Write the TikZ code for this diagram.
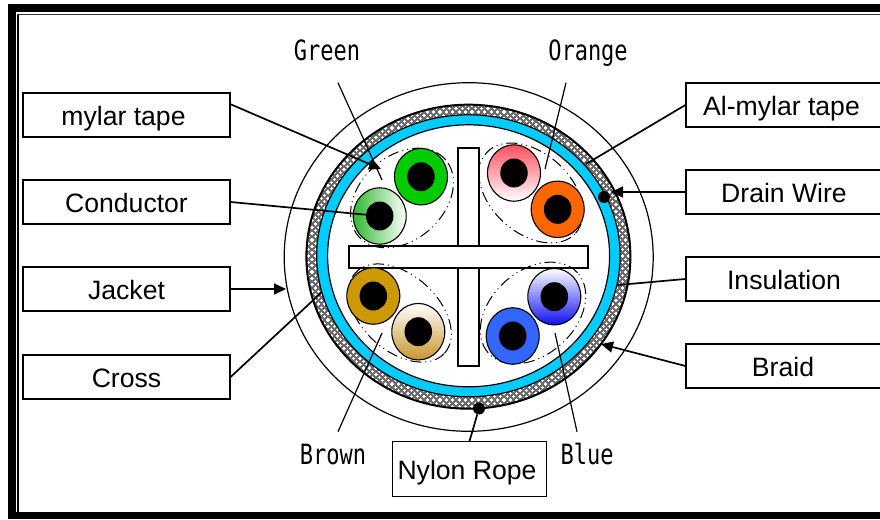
\documentclass[tikz,border=0pt]{standalone}
\usepackage{fontspec}
\usepackage{graphicx}
\setmainfont{Liberation Sans}
\newfontfamily\gothfont{DejaVu Sans Mono}
\newcommand{\tallmono}[1]{\scalebox{1}[1.27]{\gothfont #1}}
\usetikzlibrary{arrows.meta,patterns,shapes.geometric}
\pgfdeclarepatternformonly{braidweave}{\pgfqpoint{-1pt}{-1pt}}{\pgfqpoint{7.4pt}{7.4pt}}{\pgfqpoint{6.4pt}{6.4pt}}{
  \pgfsetlinewidth{1.2pt}
  \pgfpathmoveto{\pgfqpoint{0pt}{0.6pt}}\pgflineto{\pgfqpoint{3.2pt}{0.6pt}}
  \pgfpathmoveto{\pgfqpoint{1.6pt}{-1pt}}\pgflineto{\pgfqpoint{1.6pt}{2.2pt}}
  \pgfpathmoveto{\pgfqpoint{3.2pt}{3.8pt}}\pgflineto{\pgfqpoint{6.4pt}{3.8pt}}
  \pgfpathmoveto{\pgfqpoint{4.8pt}{2.2pt}}\pgflineto{\pgfqpoint{4.8pt}{5.4pt}}
  \pgfusepath{stroke}
}
\definecolor{cablecyan}{HTML}{00CCFF}
\definecolor{wiregreen}{HTML}{00CC00}
\definecolor{wireorange}{HTML}{FF6600}
\definecolor{wirebrown}{HTML}{CC9900}
\definecolor{wireblue}{HTML}{3366FF}
\definecolor{tintgreen}{HTML}{30B830}
\definecolor{tintpink}{HTML}{FF5060}
\definecolor{tintbrown}{HTML}{C8952F}
\definecolor{tintblue}{HTML}{1010F0}
\tikzset{
  lab/.style={draw=black,line width=1.2pt,fill=white,inner sep=0pt,font=\fontsize{26.6pt}{30pt}\selectfont,text height=23pt,text depth=2.5pt},
  leftbox/.style={lab,minimum width=207pt,minimum height=44pt},
  rightbox/.style={lab,minimum width=196pt,minimum height=44pt},
  colour/.style={inner sep=0pt,anchor=base,font=\fontsize{22pt}{26pt}\selectfont},
  wirebody/.style={draw=black,line width=1.1pt,ellipse,inner sep=0pt,minimum width=53pt,minimum height=56.5pt},
  wirecore/.style={fill=black,ellipse,inner sep=0pt,minimum width=27.5pt,minimum height=29pt},
  pair/.style={black,line width=1pt,dash pattern=on 11pt off 4pt on 1pt off 4pt on 1pt off 4pt},
  thinleader/.style={line width=1.2pt},
  leader/.style={line width=1.7pt},
  tipped/.style={leader,-{Triangle[length=12pt,width=11pt]}},
  blackdot/.style={fill=black,circle,inner sep=0pt,minimum size=12pt}
}
\begin{document}
\begin{tikzpicture}[x=1pt,y=-1pt]
\useasboundingbox (0,0) rectangle (880,519);
% frame
\fill[black] (8,4.5) rectangle (880,12);
\fill[black] (8,4.5) rectangle (16,519);
\fill[black] (8,512) rectangle (880,519);
\fill[black] (17,14) rectangle (19,512);
\draw[line width=0.8pt,black!80] (17,14.7) -- (880,14.7);
% jacket
\draw[line width=1.2pt] (468.7,257) ellipse [x radius=184.5pt,y radius=174.3pt];
% braid
\fill[black!58] (468.4,256.7) ellipse [x radius=162.6pt,y radius=152.5pt];
\fill[pattern=braidweave,pattern color=white] (468.4,256.7) ellipse [x radius=162.6pt,y radius=152.5pt];
\draw[line width=2pt] (468.4,256.7) ellipse [x radius=162pt,y radius=152pt];
% insulation
\filldraw[fill=cablecyan,draw=black,line width=1.2pt] (468.4,255.8) ellipse [x radius=151.7pt,y radius=141pt];
\filldraw[fill=white,draw=black,line width=1.2pt] (468.6,255.8) ellipse [x radius=141pt,y radius=131pt];
% cross
\filldraw[fill=white,draw=black,line width=1.8pt] (457.7,147.7) rectangle (479.3,366);
\filldraw[fill=white,draw=black,line width=1.8pt] (349.3,245.7) rectangle (588.3,267.7);
% twisted-pair outlines
\draw[pair] (402,198) ellipse [x radius=58pt,y radius=42pt,rotate=42];
\draw[pair] (531,193) ellipse [x radius=60pt,y radius=40pt,rotate=-42];
\draw[pair] (400,313) ellipse [x radius=60pt,y radius=38pt,rotate=-42];
\draw[pair] (533,313) ellipse [x radius=60pt,y radius=42pt,rotate=42];
% wires
\node[wirebody,fill=wiregreen] at (421,176.7) {};
\node[wirecore] (coreG) at (421,176.7) {};
\node[wirebody,left color=tintgreen,middle color=tintgreen!25,right color=white] at (379.7,216) {};
\node[wirecore] (coreC) at (379.7,216) {};
\node[wirebody,top color=tintpink,bottom color=white] at (514,173) {};
\node[wirecore] (coreP) at (514,173) {};
\node[wirebody,fill=wireorange] at (557.7,209.3) {};
\node[wirecore] (coreO) at (557.7,209.3) {};
\node[wirebody,fill=wirebrown] at (373.3,296) {};
\node[wirecore] (coreB) at (373.3,296) {};
\node[wirebody,top color=white,bottom color=tintbrown] at (418.3,331.7) {};
\node[wirecore] (coreT) at (418.3,331.7) {};
\node[wirebody,top color=white,bottom color=tintblue] at (554.3,296.7) {};
\node[wirecore] (coreV) at (554.3,296.7) {};
\node[wirebody,fill=wireblue] at (512.7,336) {};
\node[wirecore] (coreU) at (512.7,336) {};
% drain wire and nylon rope
\node[blackdot] (drain) at (604,197) {};
\node[blackdot] (rope) at (479,408.5) {};
% boxes
\node[leftbox] (mylar) at (126.5,115) {\hspace*{-6pt}mylar tape};
\node[leftbox] (conductor) at (126.5,202) {Conductor};
\node[leftbox] (jacket) at (126.5,289) {Jacket};
\node[leftbox] (cross) at (126.5,377) {Cross};
\node[rightbox] (almylar) at (784,105) {\hspace*{-5pt}Al-mylar tape};
\node[rightbox] (drainbox) at (784,192) {Drain Wire};
\node[rightbox] (insul) at (784,279) {Insulation};
\node[rightbox] (braidbox) at (784,366) {\hspace*{-2pt}Braid};
\node[lab,minimum width=154.5pt,minimum height=54.5pt] (nylon) at (469.5,469) {\hspace*{-5pt}Nylon Rope};
% colour labels
\node[colour] (green) at (327,60.5) {\tallmono{Green}};
\node[colour] (orange) at (588,60.5) {\tallmono{Orange}};
\node[colour] (brown) at (333,464.5) {\tallmono{Brown}};
\node[colour] (blue) at (587,464.5) {\tallmono{Blue}};
% free ends
\coordinate (tipMylar) at (381,169);
\coordinate (startMylar) at (230,104);
\coordinate (endG) at (382,180);
\coordinate (endO) at (545,169);
\coordinate (endB) at (382,333);
\coordinate (endU) at (555,333);
\coordinate (tipJacket) at (286,289);
\coordinate (endCross) at (322,292);
\coordinate (endAl) at (586,164);
\coordinate (tipDrain) at (611,192);
\coordinate (endIns) at (618,285);
\coordinate (tipBraid) at (601,344);
% connectors
\draw[tipped] (startMylar) -- (tipMylar);
\draw[leader] (conductor.east) -- (coreC);
\draw[tipped] (jacket.east) -- (tipJacket);
\draw[leader] (cross.east) -- (endCross);
\draw[leader] (almylar.west) -- (endAl);
\draw[tipped] (drainbox.west) -- (tipDrain);
\draw[leader] (insul.west) -- (endIns);
\draw[tipped] (braidbox.west) -- (tipBraid);
\draw[leader] (rope) -- (nylon.north);
\draw[thinleader] (338,82.7) -- (endG);
\draw[thinleader] (566,82.7) -- (endO);
\draw[thinleader] (338,431.7) -- (endB);
\draw[thinleader] (577,431.7) -- (endU);
\end{tikzpicture}
\end{document}
